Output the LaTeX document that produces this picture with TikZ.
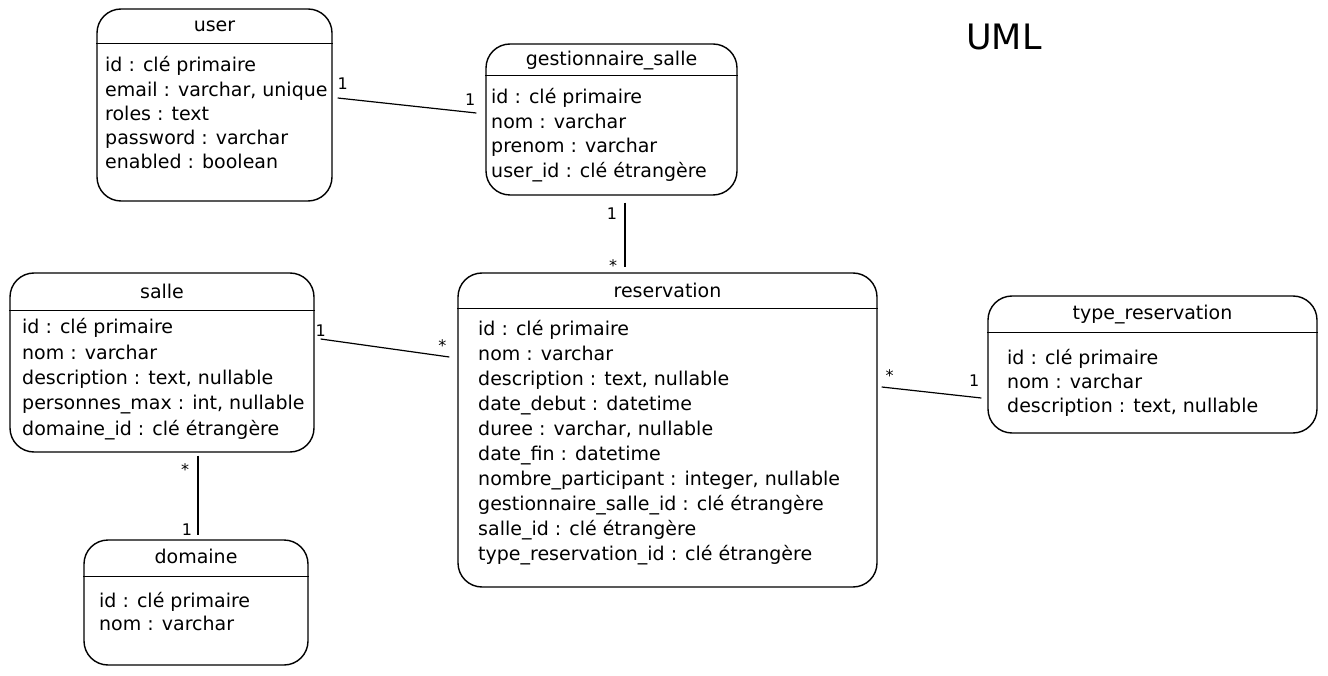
\documentclass[tikz,border=0pt]{standalone}
\usepackage{fontspec}
\setmainfont{DejaVu Sans}
\usepackage{tikz}
\usetikzlibrary{calc}
\tikzset{
entity/.style = {rectangle, draw=black, line width=1.4pt,
                 rounded corners=24pt, inner sep=0pt},
title/.style = {inner sep=0pt, text height=14pt, text depth=4.5pt,
                font=\fontsize{19}{22}\selectfont},
attr/.style = {anchor=west, inner sep=0pt, text height=14pt, text depth=4.5pt,
               font=\fontsize{19}{22}\selectfont},
sepline/.style = {line width=1.4pt},
link/.style = {line width=1.2pt},
mult/.style = {inner sep=0pt, text height=11.5pt, text depth=0pt,
               font=\fontsize{16}{18}\selectfont}
}

\begin{document}
\begin{tikzpicture}[x=1pt, y=-1pt]
    \useasboundingbox (0,0) rectangle (1328,676);

    % boxes
    \node[entity, minimum width=235pt, minimum height=192pt] (userBox) at (214.5,105) {};
    \node[entity, minimum width=251pt, minimum height=151pt] (gestBox) at (611.5,119.5) {};
    \node[entity, minimum width=304pt, minimum height=179pt] (salleBox) at (162,362.5) {};
    \node[entity, minimum width=419pt, minimum height=314pt] (resBox) at (667.5,430) {};
    \node[entity, minimum width=329pt, minimum height=137pt] (typeBox) at (1152.5,364.5) {};
    \node[entity, minimum width=224pt, minimum height=125pt] (domBox) at (196,602.5) {};

    % titles
    \node[title] (userTitle) at (214.5,27) {user};
    \node[title] (gestTitle) at (611.5,61) {gestionnaire\_salle};
    \node[title] (salleTitle) at (162,294) {salle};
    \node[title] (resTitle) at (667.5,293) {reservation};
    \node[title] (typeTitle) at (1152.5,315) {type\_reservation};
    \node[title] (domTitle) at (196,559) {domaine};

    \draw[sepline] ($(userBox.north west)+(0,35)$) -- ($(userBox.north east)+(0,35)$);
    \draw[sepline] ($(gestBox.north west)+(0,32)$) -- ($(gestBox.north east)+(0,32)$);
    \draw[sepline] ($(salleBox.north west)+(0,38)$) -- ($(salleBox.north east)+(0,38)$);
    \draw[sepline] ($(resBox.north west)+(0,36)$) -- ($(resBox.north east)+(0,36)$);
    \draw[sepline] ($(typeBox.north west)+(0,37)$) -- ($(typeBox.north east)+(0,37)$);
    \draw[sepline] ($(domBox.north west)+(0,37)$) -- ($(domBox.north east)+(0,37)$);

    % attributes
    \node[attr] (userRow1) at (105,67) {id : clé primaire};
    \node[attr] (userRow2) at (105,91.5) {email : varchar, unique};
    \node[attr] (userRow3) at (105,116) {roles : text};
    \node[attr] (userRow4) at (105,140) {password : varchar};
    \node[attr] (userRow5) at (105,164) {enabled : boolean};

    \node[attr] (gestRow1) at (491,99) {id : clé primaire};
    \node[attr] (gestRow2) at (491,123.5) {nom : varchar};
    \node[attr] (gestRow3) at (491,148) {prenom : varchar};
    \node[attr] (gestRow4) at (491,172.5) {user\_id : clé étrangère};

    \node[attr] (salleRow1) at (22,329) {id : clé primaire};
    \node[attr] (salleRow2) at (22,355) {nom : varchar};
    \node[attr] (salleRow3) at (22,380) {description : text, nullable};
    \node[attr] (salleRow4) at (22,405) {personnes\_max : int, nullable};
    \node[attr] (salleRow5) at (22,431) {domaine\_id : clé étrangère};

    \node[attr] (resRow1) at (478,331) {id : clé primaire};
    \node[attr] (resRow2) at (478,356) {nom : varchar};
    \node[attr] (resRow3) at (478,381) {description : text, nullable};
    \node[attr] (resRow4) at (478,406) {date\_debut : datetime};
    \node[attr] (resRow5) at (478,431) {duree : varchar, nullable};
    \node[attr] (resRow6) at (478,456) {date\_fin : datetime};
    \node[attr] (resRow7) at (478,481) {nombre\_participant : integer, nullable};
    \node[attr] (resRow8) at (478,506) {gestionnaire\_salle\_id : clé étrangère};
    \node[attr] (resRow9) at (478,531) {salle\_id : clé étrangère};
    \node[attr] (resRow10) at (478,556) {type\_reservation\_id : clé étrangère};

    \node[attr] (typeRow1) at (1007,360) {id : clé primaire};
    \node[attr] (typeRow2) at (1007,384) {nom : varchar};
    \node[attr] (typeRow3) at (1007,408) {description : text, nullable};

    \node[attr] (domRow1) at (99,603) {id : clé primaire};
    \node[attr] (domRow2) at (99,626) {nom : varchar};

    \node[font=\fontsize{35}{40}\selectfont] (umlTitle) at (1004,37) {UML};

    % associations
    \draw[link] ($(userBox.east)+(5,-7)$) -- ($(gestBox.west)+(-9,-6.5)$)
        node[mult, at start, xshift=5pt, yshift=14pt] (userMult) {1}
        node[mult, at end, xshift=-6pt, yshift=13pt] (gestMultA) {1};
    \draw[link] ($(gestBox.south)+(13.5,7)$) -- ($(resBox.north)+(-42.5,-5)$)
        node[mult, at start, xshift=-13pt, yshift=-11pt] (gestMultB) {1}
        node[mult, at end, xshift=-12pt, yshift=2pt] (resMultA) {*};
    \draw[link] ($(salleBox.east)+(6,-23.5)$) -- ($(resBox.west)+(-8,-73)$)
        node[mult, at start, xshift=0pt, yshift=8pt] (salleMultA) {1}
        node[mult, at end, xshift=-7pt, yshift=11pt] (resMultB) {*};
    \draw[link] ($(resBox.east)+(4,-43)$) -- ($(typeBox.west)+(-6,33.5)$)
        node[mult, at start, xshift=8pt, yshift=11pt] (resMultC) {*}
        node[mult, at end, xshift=-7pt, yshift=17pt] (typeMult) {1};
    \draw[link] ($(salleBox.south)+(36,3)$) -- ($(domBox.north)+(2,-4)$)
        node[mult, at start, xshift=-13pt, yshift=-14pt] (salleMultB) {*}
        node[mult, at end, xshift=-11pt, yshift=6pt] (domMult) {1};

\end{tikzpicture}
\end{document}
